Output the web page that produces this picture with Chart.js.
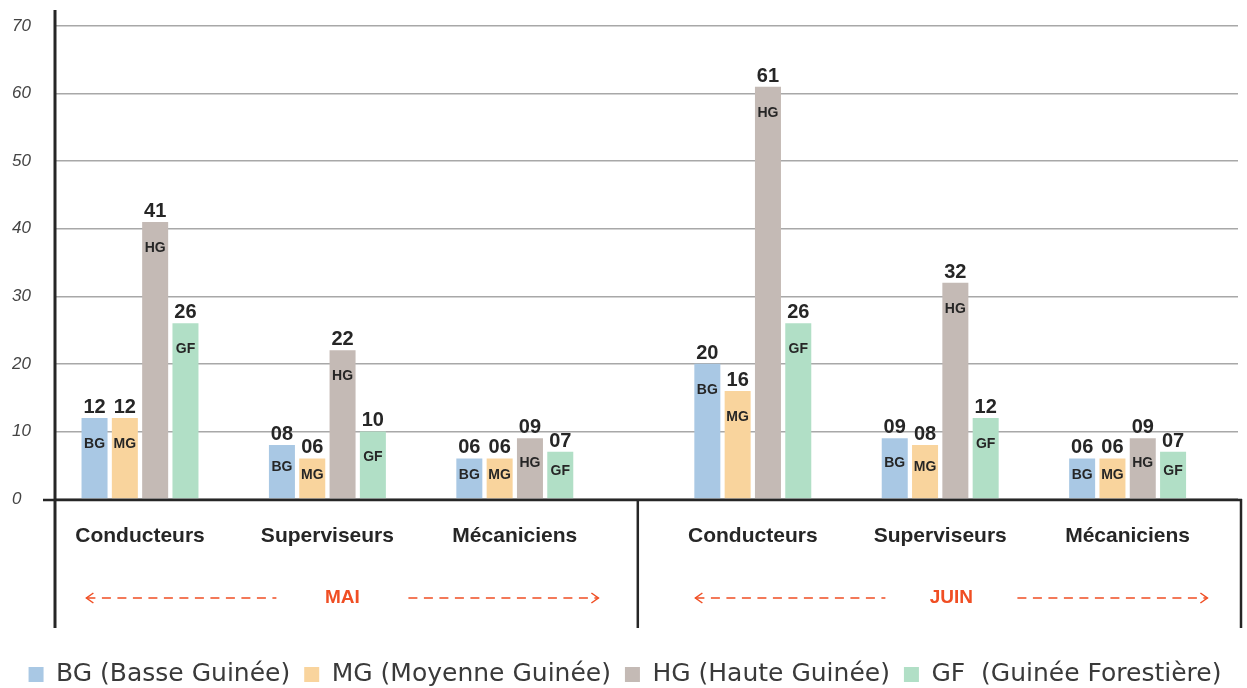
<!DOCTYPE html>
<html>
<head>
<meta charset="utf-8">
<script src="https://cdn.jsdelivr.net/npm/chart.js@4.4.0/dist/chart.umd.min.js"></script>
<style>
  html, body { margin: 0; padding: 0; background: #ffffff; }
  #wrap { width: 1247px; height: 688px; position: relative; }
</style>
</head>
<body>
<div id="wrap"><canvas id="c"></canvas></div>
<script>
// ---------- DATA ----------
const months = ['MAI', 'JUIN'];
const categories = ['Conducteurs', 'Superviseurs', 'Mécaniciens'];
const seriesCodes = ['BG', 'MG', 'HG', 'GF'];
const seriesNames = ['BG (Basse Guinée)', 'MG (Moyenne Guinée)', 'HG (Haute Guinée)', 'GF  (Guinée Forestière)'];
// order: MAI Conducteurs, MAI Superviseurs, MAI Mécaniciens, JUIN Conducteurs, JUIN Superviseurs, JUIN Mécaniciens
const bgValues = [12, 8, 6, 20, 9, 6];
const mgValues = [12, 6, 6, 16, 8, 6];
const hgValues = [41, 22, 9, 61, 32, 9];
const gfValues = [26, 10, 7, 26, 12, 7];
const yTickValues = [0, 10, 20, 30, 40, 50, 60, 70];

// ---------- STYLE / LAYOUT ----------
const colors = ['#a9c8e4', '#f9d49d', '#c4bab5', '#b1dfc6'];
const MONTH_GAP = 0.27;
const seriesValues = [bgValues, mgValues, hgValues, gfValues];
const groupPos = months.flatMap((m, mi) => categories.map((c, ci) => mi * (categories.length + MONTH_GAP) + ci));
const groupLabels = months.flatMap(() => categories);

const datasets = seriesCodes.map((code, si) => ({
  label: seriesNames[si],
  code: code,
  data: groupPos.map((x, i) => ({ x: x, y: seriesValues[si][i] })),
  backgroundColor: colors[si],
  borderWidth: 0,
  categoryPercentage: 0.647,
  barPercentage: 0.858
}));

function strokeLine(ctx, x1, y1, x2, y2) {
  ctx.beginPath();
  ctx.moveTo(x1, y1);
  ctx.lineTo(x2, y2);
  ctx.stroke();
}

const barLabels = {
  id: 'barLabels',
  afterDatasetsDraw(chart) {
    const ctx = chart.ctx;
    ctx.save();
    ctx.fillStyle = '#262626';
    ctx.textAlign = 'center';
    chart.data.datasets.forEach((ds, di) => {
      const meta = chart.getDatasetMeta(di);
      meta.data.forEach((bar, i) => {
        const v = ds.data[i].y;
        const top = bar.y, base = bar.base;
        ctx.font = 'bold 20px "Liberation Sans", Arial, sans-serif';
        ctx.textBaseline = 'alphabetic';
        ctx.fillText(String(v).padStart(2, '0'), bar.x, top - 5);
        ctx.font = 'bold 14px "Liberation Sans", Arial, sans-serif';
        ctx.textBaseline = 'middle';
        const h = base - top;
        ctx.fillText(ds.code, bar.x, top + Math.min(26, h * 0.42));
      });
    });
    ctx.restore();
  }
};

const decor = {
  id: 'decor',
  afterDraw(chart) {
    const ctx = chart.ctx;
    const ca = chart.chartArea;
    const xs = chart.scales.x;
    const bottom = ca.bottom + 129;
    ctx.save();
    ctx.strokeStyle = '#262626';
    ctx.lineWidth = 3;
    strokeLine(ctx, ca.left, 10, ca.left, bottom);
    ctx.lineWidth = 2.5;
    strokeLine(ctx, ca.left - 12, ca.bottom + 1, ca.right + 4, ca.bottom + 1);
    const sepX = xs.getPixelForValue((categories.length - 1 + categories.length + MONTH_GAP) / 2) + 4;
    const rightX = ca.right + 3;
    strokeLine(ctx, sepX, ca.bottom, sepX, bottom);
    strokeLine(ctx, rightX, ca.bottom, rightX, bottom);

    const sections = [[ca.left, sepX], [sepX, rightX]];
    const y = ca.bottom + 99;
    const orange = '#f04e23';
    const half = 256, gap = 66;
    months.forEach((m, mi) => {
      const cx = (sections[mi][0] + sections[mi][1]) / 2 + (mi === 0 ? -4 : 12);
      ctx.fillStyle = orange;
      ctx.font = 'bold 19px "Liberation Sans", Arial, sans-serif';
      ctx.textAlign = 'center';
      ctx.textBaseline = 'middle';
      ctx.fillText(m, cx, y);
      ctx.strokeStyle = orange;
      ctx.lineWidth = 1.5;
      ctx.setLineDash([9, 6.5]);
      strokeLine(ctx, cx - half, y, cx - gap, y);
      strokeLine(ctx, cx + gap, y, cx + half, y);
      ctx.setLineDash([]);
      ctx.beginPath();
      ctx.moveTo(cx - half + 7, y - 5); ctx.lineTo(cx - half, y); ctx.lineTo(cx - half + 7, y + 5);
      ctx.stroke();
      ctx.beginPath();
      ctx.moveTo(cx + half - 7, y - 5); ctx.lineTo(cx + half, y); ctx.lineTo(cx + half - 7, y + 5);
      ctx.stroke();
    });
    ctx.restore();
  }
};

new Chart(document.getElementById('c'), {
  type: 'bar',
  data: { datasets: datasets },
  plugins: [barLabels, decor],
  options: {
    responsive: true,
    maintainAspectRatio: false,
    animation: false,
    layout: { padding: { top: 26, left: 12, right: 9, bottom: 0 } },
    plugins: {
      tooltip: { enabled: false },
      legend: {
        position: 'bottom',
        maxHeight: 40,
        labels: {
          font: { family: '"DejaVu Sans", sans-serif', size: 25 },
          color: '#3a3a3a',
          boxWidth: 15,
          boxHeight: 15,
          padding: 14
        }
      }
    },
    scales: {
      x: {
        type: 'linear',
        offset: false,
        min: -0.4536,
        max: 5.8591,
        afterBuildTicks: (s) => { s.ticks = groupPos.map(v => ({ value: v })); },
        afterFit: (s) => { s.height = 149; },
        grid: { display: false, drawTicks: false, offset: false },
        border: { display: false },
        ticks: {
          autoSkip: false,
          maxRotation: 0,
          padding: 25,
          color: '#262626',
          font: { family: '"Liberation Sans", Arial, sans-serif', size: 21, weight: 'bold' },
          callback: (v, i) => groupLabels[i]
        }
      },
      y: {
        min: 0,
        max: 70,
        afterBuildTicks: (s) => { s.ticks = yTickValues.map(v => ({ value: v })); },
        afterFit: (s) => { s.width = 43; },
        grid: { color: '#a8a8a8', lineWidth: 1.5, drawTicks: false },
        border: { display: false },
        ticks: {
          crossAlign: 'far',
          color: '#444444',
          font: { family: '"Liberation Sans", Arial, sans-serif', size: 17, style: 'italic' }
        }
      }
    }
  }
});
</script>
</body>
</html>
